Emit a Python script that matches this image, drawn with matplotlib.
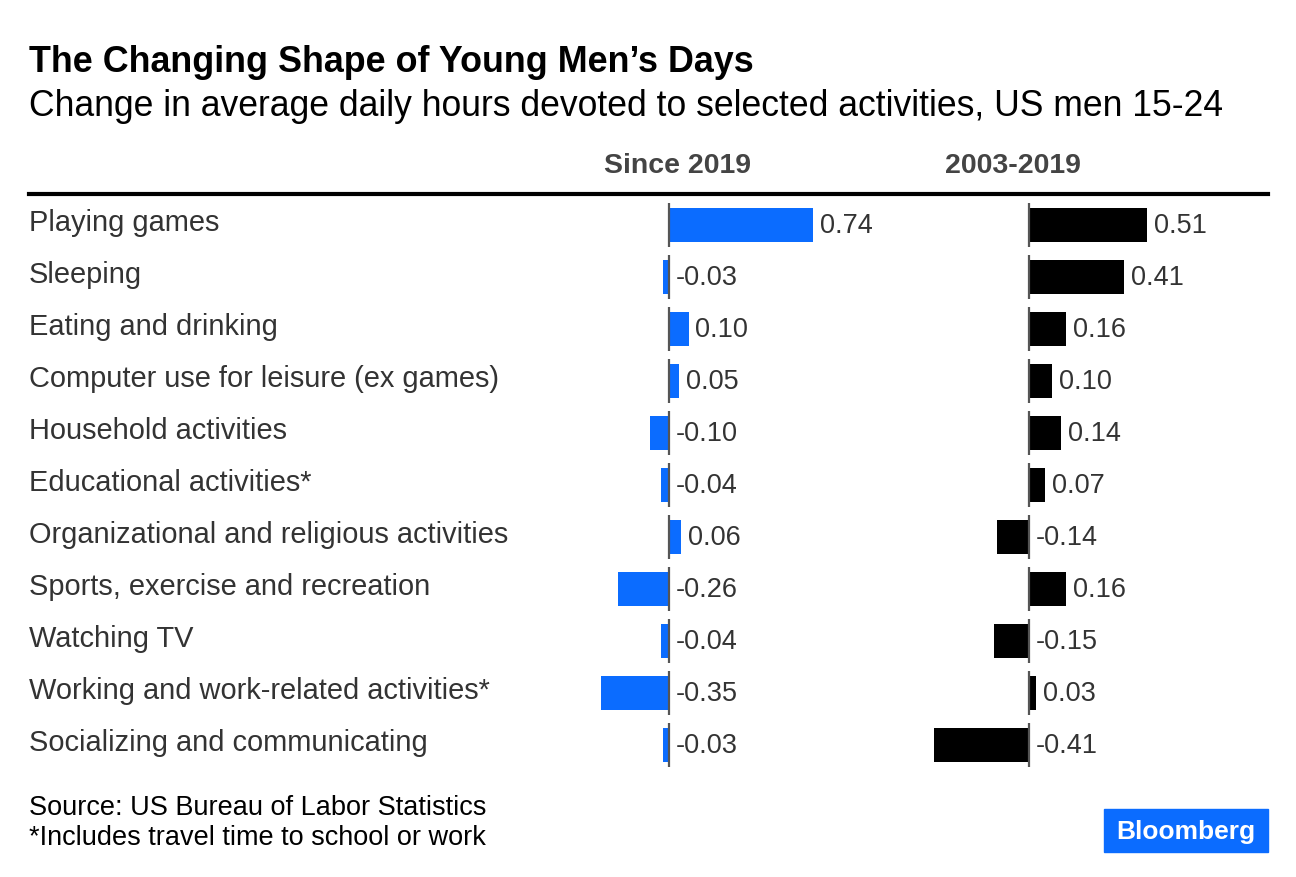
import numpy as np
import matplotlib.pyplot as plt
from matplotlib.transforms import blended_transform_factory
from matplotlib.patches import Rectangle

plt.rcParams['font.family'] = ['Liberation Sans', 'DejaVu Sans']

activities = ["Playing games", "Sleeping", "Eating and drinking",
              "Computer use for leisure (ex games)", "Household activities",
              "Educational activities*", "Organizational and religious activities",
              "Sports, exercise and recreation", "Watching TV",
              "Working and work-related activities*", "Socializing and communicating"]
since_2019 = [0.74, -0.03, 0.10, 0.05, -0.10, -0.04, 0.06, -0.26, -0.04, -0.35, -0.03]
y2003_2019 = [0.51, 0.41, 0.16, 0.10, 0.14, 0.07, -0.14, 0.16, -0.15, 0.03, -0.41]

W, H = 1296, 878
blue = '#0b6cff'
txt = '#333333'

fig = plt.figure(figsize=(W / 100, H / 100), dpi=100)


def px_axes(x0, x1, y0, y1):
    # pixel box (top-left origin) -> figure fraction axes
    return fig.add_axes([x0 / W, 1 - y1 / H, (x1 - x0) / W, (y1 - y0) / H])


top, bottom = 200, 772
n = len(activities)
ys = np.arange(n)


def panel(x0, x1, zero, scale, vals, color):
    ax = px_axes(x0, x1, top, bottom)
    ax.set_xlim((x0 - zero) / scale, (x1 - zero) / scale)
    ax.set_ylim(n - 0.5, -0.5)
    ax.barh(ys, vals, height=0.67, color=color)
    ax.vlines([0] * n, ys - 0.42, ys + 0.42, color='#555555', lw=1.6)
    for y, v in zip(ys, vals):
        x = v if v > 0 else 0
        ax.annotate(f"{v:.2f}", (x, y), xytext=(7, 0), textcoords='offset pixels',
                    va='center', ha='left', fontsize=19.5, color=txt)
    ax.axis('off')
    return ax


ax1 = panel(560, 900, 669, 195, since_2019, blue)
ax2 = panel(900, 1268, 1029, 232, y2003_2019, 'black')

tr = blended_transform_factory(fig.transFigure, ax1.transData)
for y, lab in zip(ys, activities):
    ax1.text(29 / W, y - 0.05, lab, transform=tr, ha='left', va='center',
             fontsize=20.9, color=txt, clip_on=False)

fig.text(29 / W, 1 - 62 / H, "The Changing Shape of Young Men\u2019s Days",
         fontsize=25.8, fontweight='bold', color='black', va='center')
fig.text(29 / W, 1 - 106 / H,
         "Change in average daily hours devoted to selected activities, US men 15-24",
         fontsize=25.6, color='black', va='center')
fig.text(677 / W, 1 - 166 / H, "Since 2019", fontsize=20.5, fontweight='bold',
         color='#444444', ha='center', va='center')
fig.text(1013 / W, 1 - 166 / H, "2003-2019", fontsize=20.5, fontweight='bold',
         color='#444444', ha='center', va='center')
fig.add_artist(plt.Line2D([29 / W, 1268 / W], [1 - 195 / H] * 2, color='black',
                          lw=3, transform=fig.transFigure))

fig.text(29 / W, 1 - 808 / H, "Source: US Bureau of Labor Statistics",
         fontsize=19.5, color='black', va='center')
fig.text(29 / W, 1 - 838 / H, "*Includes travel time to school or work",
         fontsize=19.5, color='black', va='center')
fig.add_artist(Rectangle((1104 / W, 1 - 853 / H), 164 / W, 43 / H,
                         color=blue, transform=fig.transFigure))
fig.text(1186 / W, 1 - 832 / H, "Bloomberg", fontsize=19, fontweight='bold',
         color='white', ha='center', va='center')

fig.savefig('out.png', dpi=100)
